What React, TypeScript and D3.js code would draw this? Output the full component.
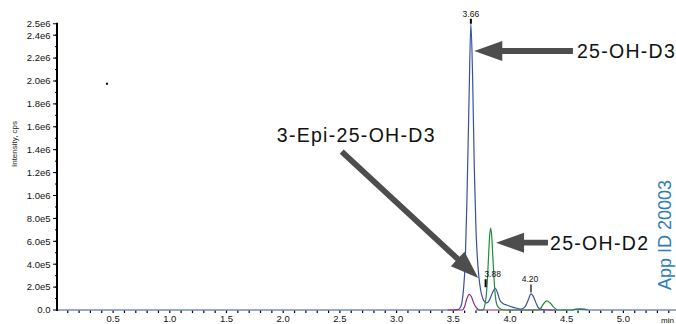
import React from "react";
import * as d3 from "d3";

// ---- data (time in min, intensity in cps) ----
const blueTrace: [number, number][] = [
  [0, 0], [3.5, 0], [3.54, 0.003], [3.56, 0.02], [3.575, 0.06], [3.59, 0.18], [3.605, 0.42], [3.62, 0.95],
  [3.64, 1.9], [3.655, 2.5], [3.67, 2.05], [3.685, 1.25], [3.7, 0.7], [3.72, 0.35], [3.74, 0.18],
  [3.76, 0.1], [3.78, 0.07], [3.795, 0.062], [3.815, 0.08], [3.845, 0.15], [3.87, 0.19], [3.89, 0.15],
  [3.91, 0.087], [3.94, 0.055], [3.97, 0.044], [4.02, 0.025], [4.06, 0.015], [4.1, 0.008], [4.13, 0.025],
  [4.16, 0.085], [4.185, 0.14], [4.21, 0.11], [4.23, 0.06], [4.25, 0.02], [4.28, 0.005], [4.32, 0],
  [4.55, 0], [4.58, 0.008], [4.62, 0.01], [4.66, 0.008], [4.69, 0], [5.5, 0],
].map(([t, v]) => [t, v * 1e6] as [number, number]);

const purpleTrace: [number, number][] = [
  [3.45, 0], [3.58, 0], [3.6, 0.03], [3.62, 0.1], [3.64, 0.137], [3.66, 0.115], [3.68, 0.06],
  [3.7, 0.025], [3.72, 0.005], [3.74, 0], [4.4, 0],
].map(([t, v]) => [t, v * 1e6] as [number, number]);

const greenTrace: [number, number][] = [
  [3.7, 0], [3.76, 0], [3.775, 0.03], [3.79, 0.12], [3.8, 0.25], [3.81, 0.45], [3.82, 0.64], [3.83, 0.716],
  [3.84, 0.63], [3.85, 0.44], [3.86, 0.26], [3.87, 0.13], [3.88, 0.06], [3.9, 0.02], [3.93, 0.004],
  [3.96, 0], [4.25, 0], [4.27, 0.015], [4.3, 0.06], [4.325, 0.08], [4.35, 0.065], [4.38, 0.03],
  [4.41, 0.005], [4.43, 0], [4.55, 0], [4.6, 0.004], [4.64, 0.004], [4.68, 0],
].map(([t, v]) => [t, v * 1e6] as [number, number]);

const yMajorTicks = [0, 2e5, 4e5, 6e5, 8e5, 1e6, 1.2e6, 1.4e6, 1.6e6, 1.8e6, 2e6, 2.2e6, 2.4e6, 2.5e6];
const yTickLabels = ["0.0", "2.0e5", "4.0e5", "6.0e5", "8.0e5", "1.0e6", "1.2e6", "1.4e6", "1.6e6", "1.8e6", "2.0e6", "2.2e6", "2.4e6", "2.5e6"];
const xMajorTicks = [0.5, 1.0, 1.5, 2.0, 2.5, 3.0, 3.5, 4.0, 4.5, 5.0];
const xTickLabels = ["0.5", "1.0", "1.5", "2.0", "2.5", "3.0", "3.5", "4.0", "4.5", "5.0"];

const peakLabels = [
  { text: "3.66", t: 3.655, v: 2.5e6, tickT: 3.655 },
  { text: "3.88", t: 3.847, v: 0.225e6, tickT: 3.785 },
  { text: "4.20", t: 4.176, v: 0.18e6, tickT: 4.185 },
];

// annotations: label + arrow (tail -> tip), in data coordinates
const annotations = [
  { text: "25-OH-D3", textT: 4.59, textV: 2.262e6, from: [4.555, 2.262e6], to: [3.685, 2.262e6] },
  { text: "25-OH-D2", textT: 4.353, textV: 0.588e6, from: [4.335, 0.588e6], to: [3.877, 0.588e6] },
  { text: "3-Epi-25-OH-D3", textT: 1.943, textV: 1.531e6, from: [2.516, 1.383e6], to: [3.72, 0.2795e6] },
];

const W = 676;
const H = 324;
const FONT = "'Liberation Sans', Arial, Helvetica, sans-serif";

export default function App() {
  const x = d3.scaleLinear().domain([0, 5.5]).range([56.4, 56.4 + 5.5 * 113.4]);
  const y = d3.scaleLinear().domain([0, 2.5e6]).range([310, 310 - 2.5 * 114.5]);

  const line = d3
    .line<[number, number]>()
    .x((d) => x(d[0]))
    .y((d) => y(d[1]))
    .curve(d3.curveMonotoneX);

  const yMinor = d3.range(1e5, 2.5e6, 1e5);
  const xMinor = d3.range(0.1, 5.45, 0.1);

  const arrowPath = (from: number[], to: number[]) => {
    const x0 = x(from[0]), y0 = y(from[1]);
    const x1 = x(to[0]), y1 = y(to[1]);
    const dx = x1 - x0, dy = y1 - y0;
    const len = Math.hypot(dx, dy);
    const ux = dx / len, uy = dy / len;
    const px = -uy, py = ux;
    const headLen = 28, headW = 10, shaftW = 2.9;
    const bx = x1 - ux * headLen, by = y1 - uy * headLen;
    const pts = [
      [x0 + px * shaftW, y0 + py * shaftW],
      [bx + px * shaftW, by + py * shaftW],
      [bx + px * headW, by + py * headW],
      [x1, y1],
      [bx - px * headW, by - py * headW],
      [bx - px * shaftW, by - py * shaftW],
      [x0 - px * shaftW, y0 - py * shaftW],
    ];
    return "M" + pts.map((p) => p[0].toFixed(2) + "," + p[1].toFixed(2)).join("L") + "Z";
  };

  return (
    <svg
      width={W}
      height={H}
      viewBox={`0 0 ${W} ${H}`}
      style={{ position: "absolute", left: 0, top: 0, background: "#fff", fontFamily: FONT }}
    >
      <rect x={0} y={0} width={W} height={H} fill="#fff" />

      {/* y axis label */}
      <text
        transform={`translate(16.5,${y(1.45e6)}) rotate(-90)`}
        textAnchor="middle"
        fontSize={8}
        fill="#222"
      >
        Intensity, cps
      </text>

      {/* y ticks */}
      {yMinor.map((v) => (
        <line key={"ym" + v} x1={55} x2={57} y1={y(v)} y2={y(v)} stroke="#000" strokeWidth={1} />
      ))}
      {yMajorTicks.map((v, i) => (
        <g key={"yt" + v}>
          <line x1={53} x2={57} y1={y(v)} y2={y(v)} stroke="#000" strokeWidth={1} />
          <text x={50.5} y={y(v)} dy="0.35em" textAnchor="end" fontSize={9.5} fill="#111">
            {yTickLabels[i]}
          </text>
        </g>
      ))}

      {/* x ticks */}
      {xMinor.map((t) => (
        <line key={"xm" + t} x1={x(t)} x2={x(t)} y1={310.5} y2={313} stroke="#000" strokeWidth={1.2} />
      ))}
      {xMajorTicks.map((t, i) => (
        <text key={"xt" + t} x={x(t)} y={322} textAnchor="middle" fontSize={9.5} fill="#111">
          {xTickLabels[i]}
        </text>
      ))}
      <text x={661} y={323} fontSize={8} fill="#111">min</text>

      {/* traces */}
      <path d={line(blueTrace) || ""} fill="none" stroke="#3b4ea6" strokeWidth={1.2} />
      <path d={line(purpleTrace) || ""} fill="none" stroke="#8e2a86" strokeWidth={1.2} />
      <path d={line(greenTrace) || ""} fill="none" stroke="#1f8c3c" strokeWidth={1.2} />

      {/* y axis line */}
      <line x1={57} x2={57} y1={y(2.5e6) - 1} y2={311} stroke="#000" strokeWidth={2} />

      {/* peak labels */}
      {peakLabels.map((p) => (
        <g key={p.text}>
          <text x={x(p.t)} y={y(p.v) - 7} textAnchor="middle" fontSize={8.5} fill="#111">
            {p.text}
          </text>
          <line
            x1={x(p.tickT)}
            x2={x(p.tickT)}
            y1={y(p.v) - 5}
            y2={y(p.v) + (p.text === "3.66" ? 0 : 3)}
            stroke="#000"
            strokeWidth={p.text === "4.20" ? 1.2 : 2}
          />
        </g>
      ))}

      {/* stray mark */}
      <rect x={x(0.437)} y={y(1.985e6)} width={2} height={2} fill="#000" />

      {/* annotations */}
      {annotations.map((a) => (
        <g key={a.text}>
          <path d={arrowPath(a.from, a.to)} fill="#4d4d4d" />
          <text
            x={x(a.textT)}
            y={y(a.textV)}
            dy="0.36em"
            fontSize={19.5}
            letterSpacing={1.3}
            fill="#111"
          >
            {a.text}
          </text>
        </g>
      ))}

      {/* watermark */}
      <text
        transform={`translate(${x(5.455) - 4},${y(0.655e6)}) rotate(-90)`}
        textAnchor="middle"
        fontSize={18}
        fill="#2b7db6"
      >
        App ID 20003
      </text>
    </svg>
  );
}
